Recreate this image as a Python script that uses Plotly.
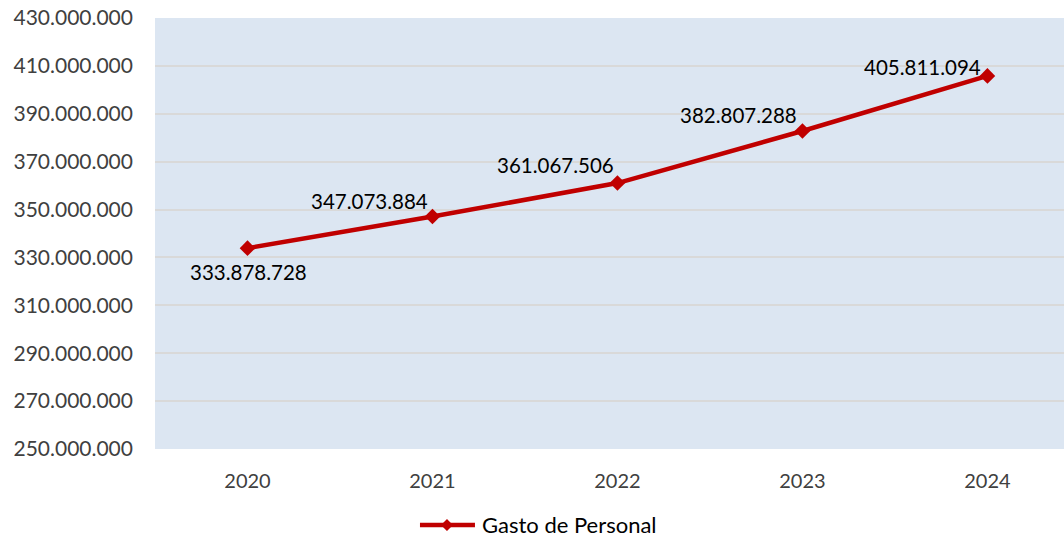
import plotly.graph_objects as go

years = ["2020", "2021", "2022", "2023", "2024"]
gasto = [333878728, 347073884, 361067506, 382807288, 405811094]
labels = ["333.878.728", "347.073.884", "361.067.506", "382.807.288", "405.811.094"]
series_name = "Gasto de Personal"
y_ticks = list(range(250000000, 430000001, 20000000))
y_ticktext = [f"{v:,}".replace(",", ".") for v in y_ticks]

# label offsets (pixels) relative to each point
label_dx = [1, -63, -62, -64, -65]
label_dy = [-24, 16, 18, 16, 9]

FONT = "Lato, Carlito, Calibri, sans-serif"
RED = "#C00000"

fig = go.Figure()
fig.add_trace(go.Scatter(
    x=list(range(len(years))), y=gasto, mode="lines+markers",
    name=series_name, showlegend=False,
    line=dict(color=RED, width=4.5),
    marker=dict(symbol="diamond", size=12, color=RED),
))

for i, (v, t) in enumerate(zip(gasto, labels)):
    fig.add_annotation(x=i, y=v, text=t, showarrow=False,
                       xanchor="center", yanchor="middle",
                       xshift=label_dx[i], yshift=label_dy[i],
                       font=dict(family=FONT, size=20.5, color="#000000"))

# manual legend
leg_y = -0.1763
fig.add_shape(type="line", xref="paper", yref="paper",
              x0=0.2915, x1=0.3520, y0=leg_y, y1=leg_y,
              line=dict(color=RED, width=4.5))
fig.add_shape(type="path", xref="paper", yref="paper",
              xsizemode="pixel", ysizemode="pixel",
              xanchor=0.3212, yanchor=leg_y,
              path="M 0 6 L 6 0 L 0 -6 L -6 0 Z",
              fillcolor=RED, line=dict(color=RED, width=0))
fig.add_annotation(x=0.3575, y=leg_y, xref="paper", yref="paper",
                   text=series_name, showarrow=False,
                   xanchor="left", yanchor="middle",
                   font=dict(family=FONT, size=22, color="#000000"))

fig.update_layout(
    width=1064, height=538,
    margin=dict(l=155, r=0, t=18, b=89),
    paper_bgcolor="white", plot_bgcolor="#DCE6F2",
    font=dict(family=FONT, size=21, color="#404040"),
    showlegend=False,
)
fig.update_xaxes(
    range=[-0.5, 4.414], tickmode="array", tickvals=list(range(len(years))), ticktext=years,
    showgrid=False, zeroline=False, showline=False, ticks="", ticklabelstandoff=18,
    tickfont=dict(size=20),
)
fig.update_yaxes(
    range=[250000000, 430000000], tickmode="array", tickvals=y_ticks, ticktext=y_ticktext,
    showgrid=True, gridcolor="#D9D9D9", gridwidth=1.5, zeroline=False, showline=False,
    ticks="", ticklabelstandoff=21, ticklabeloverflow="allow",
)
fig.write_html("out.html", config={"displayModeBar": False},
               post_script="document.body.style.margin='0';document.body.style.overflow='hidden';")
